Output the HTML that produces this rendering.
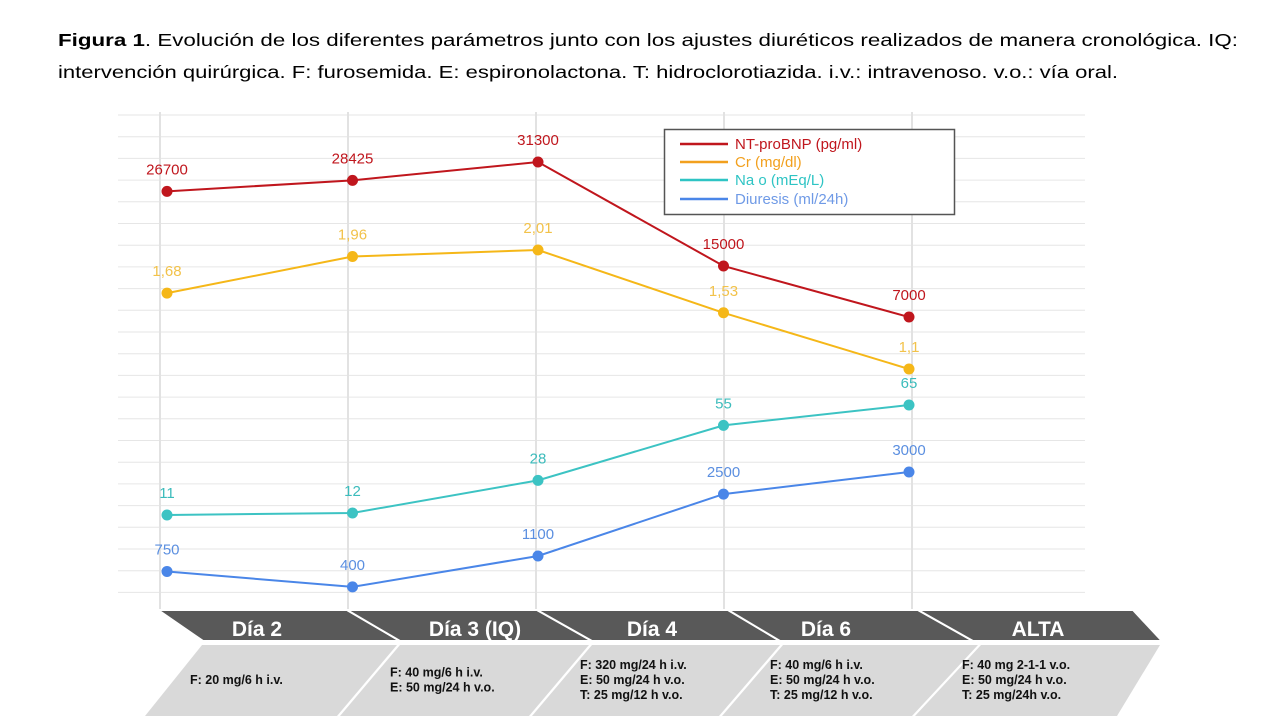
<!DOCTYPE html>
<html><head><meta charset="utf-8"><style>
body{margin:0;background:#fff;width:1280px;height:720px;overflow:hidden;font-family:"Liberation Sans",sans-serif}
</style></head><body>
<svg id="chart" width="1280" height="720" xmlns="http://www.w3.org/2000/svg" style="font-family:'Liberation Sans',sans-serif">
<g font-size="17.5" fill="#000">
<text x="58" y="46" textLength="1180" lengthAdjust="spacingAndGlyphs"><tspan font-weight="bold">Figura 1</tspan>. Evolución de los diferentes parámetros junto con los ajustes diuréticos realizados de manera cronológica. IQ:</text>
<text x="58" y="78" textLength="1060" lengthAdjust="spacingAndGlyphs">intervención quirúrgica. F: furosemida. E: espironolactona. T: hidroclorotiazida. i.v.: intravenoso. v.o.: vía oral.</text>
</g>
<g id="grid"></g>
<g id="series"></g>
<g>
<rect x="664.5" y="129.5" width="290" height="85" fill="#fff" stroke="#555" stroke-width="1.5"/>
<line x1="680" y1="144" x2="728" y2="144" stroke="#c0161d" stroke-width="2.5"/><text x="735" y="149" font-size="15" fill="#c0161d">NT-proBNP (pg/ml)</text>
<line x1="680" y1="162" x2="728" y2="162" stroke="#f2a01e" stroke-width="2.5"/><text x="735" y="167" font-size="15" fill="#f2a01e">Cr (mg/dl)</text>
<line x1="680" y1="180" x2="728" y2="180" stroke="#2ec4c4" stroke-width="2.5"/><text x="735" y="185" font-size="15" fill="#2ec4c4">Na o (mEq/L)</text>
<line x1="680" y1="199" x2="728" y2="199" stroke="#4a86e8" stroke-width="2.5"/><text x="735" y="204" font-size="15" fill="#6f9ae6">Diuresis (ml/24h)</text>
</g>
<g id="timeline"></g>
</svg>
<script>
const categories=['Día 2','Día 3 (IQ)','Día 4','Día 6','ALTA'];
const ntprobnp=[26700,28425,31300,15000,7000];
const creat=[1.68,1.96,2.01,1.53,1.1];
const sodium=[11,12,28,55,65];
const diuresis=[750,400,1100,2500,3000];
const creatLabels=['1,68','1,96','2,01','1,53','1,1'];
const treatments=[['F: 20 mg/6 h i.v.'],['F: 40 mg/6 h i.v.','E: 50 mg/24 h v.o.'],['F: 320 mg/24 h i.v.','E: 50 mg/24 h v.o.','T: 25 mg/12 h v.o.'],['F: 40 mg/6 h i.v.','E: 50 mg/24 h v.o.','T: 25 mg/12 h v.o.'],['F: 40 mg 2-1-1 v.o.','E: 50 mg/24 h v.o.','T: 25 mg/24h v.o.']];
const NS='http://www.w3.org/2000/svg';
function mk(t,a,p){const e=document.createElementNS(NS,t);for(const k in a)e.setAttribute(k,a[k]);p.appendChild(e);return e;}
const xPos=i=>167+i*185.5;
const scales=[
 {d:ntprobnp,y:v=>162+(31300-v)*0.00638,c:'#c0161d',lc:'#c0161d',n:'ntprobnp',lab:ntprobnp.map(String)},
 {d:creat,y:v=>250+(2.01-v)*130.8,c:'#f5b718',lc:'#f2c24a',n:'creatinine',lab:creatLabels},
 {d:sodium,y:v=>405+(65-v)*2.037,c:'#3cc3c3',lc:'#3cbcbc',n:'sodium',lab:sodium.map(String)},
 {d:diuresis,y:v=>472+(3000-v)*0.0442,c:'#4a86e8',lc:'#5b8fe0',n:'diuresis',lab:diuresis.map(String)}];
const grid=document.getElementById('grid');
for(let y=115;y<600;y+=21.7){const l=mk('line',{x1:118,x2:1085,y1:y,y2:y,stroke:'#e6e6e6','stroke-width':1},grid);}
categories.forEach((c,i)=>{const x=160+i*188;const l=mk('line',{x1:x,x2:x,y1:112,y2:610,stroke:'#e2e2e2','stroke-width':2},grid);});
const sg=document.getElementById('series');
scales.forEach(s=>{
 const g=mk('g',{},sg);
 const p=mk('polyline',{points:s.d.map((v,i)=>xPos(i)+','+s.y(v)).join(' '),fill:'none',stroke:s.c,'stroke-width':2},g);
 
 s.d.forEach((v,i)=>{
  const c=mk('circle',{cx:xPos(i),cy:s.y(v),r:5.5,fill:s.c},g);
  
  const t=mk('text',{x:xPos(i),y:s.y(v)-17,'font-size':15,fill:s.lc,'text-anchor':'middle'},g);t.textContent=s.lab[i];
  
 });
});
const tl=document.getElementById('timeline');
const bandTop=[158,347,537,728,918,1133];
const bandBot=[203,400,592,780,973,1162];
const boxTop=[202,400,592,783,981,1163];
const boxBot=[145,340,532,722,915,1120];
const labelX=[257,475,652,826,1038];
const textX=[190,390,580,770,962];
categories.forEach((c,i)=>{
 const pts=`${bandTop[i]},610 ${bandTop[i+1]},610 ${bandBot[i+1]},641 ${bandBot[i]},641`;
 const poly=mk('polygon',{points:pts,fill:'#595959',stroke:'#fff','stroke-width':2},tl);
 
 const t=mk('text',{x:labelX[i],y:636,'font-size':21,'font-weight':'bold',fill:'#fff','text-anchor':'middle'},tl);t.textContent=c;
 
 const bp=mk('polygon',{points:`${boxTop[i]},645 ${boxTop[i+1]-3},645 ${boxBot[i+1]-3},716 ${boxBot[i]},716`,fill:'#d9d9d9'},tl);
 
 const lines=treatments[i];const cy=680-(lines.length-1)*7.5;
 lines.forEach((ln,k)=>{const tt=mk('text',{x:textX[i],y:cy+k*15+4,'font-size':12.5,'font-weight':'bold',fill:'#111'},tl);tt.textContent=ln;
  });
});
</script>
</body></html>
